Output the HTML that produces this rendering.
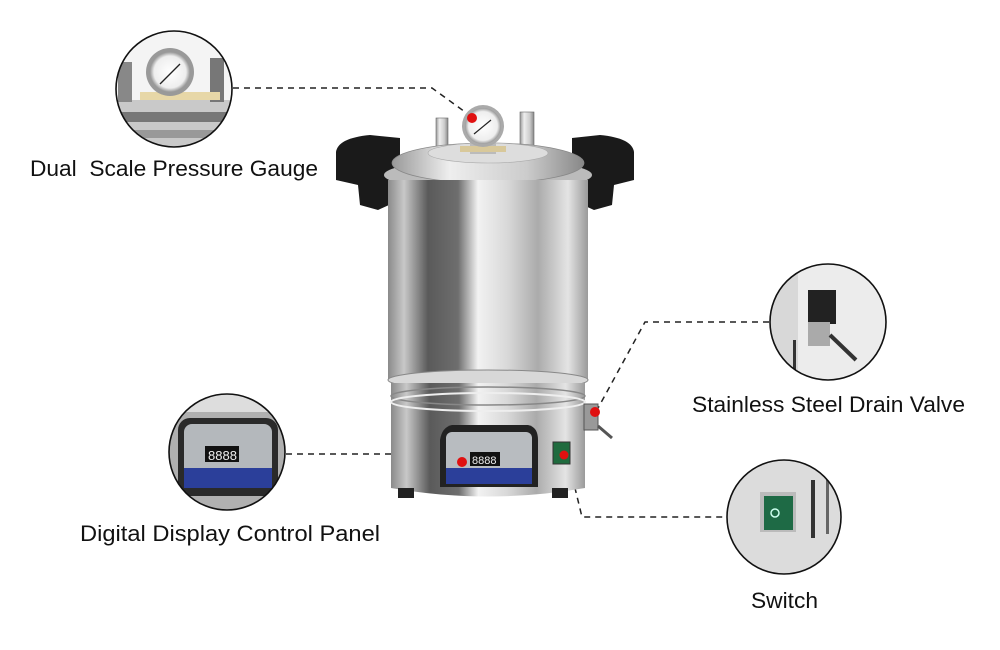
<!DOCTYPE html>
<html><head><meta charset="utf-8"><style>
html,body{margin:0;padding:0;background:#fff;}
svg{display:block}
text{font-family:"Liberation Sans",sans-serif;font-size:22px;fill:#111}
</style></head><body>
<svg width="1000" height="650" viewBox="0 0 1000 650" xmlns="http://www.w3.org/2000/svg">
<defs>
<linearGradient id="steel" x1="0" x2="1" y1="0" y2="0">
<stop offset="0" stop-color="#8a8a8a"/><stop offset="0.08" stop-color="#c8c8c8"/>
<stop offset="0.2" stop-color="#5a5a5a"/><stop offset="0.35" stop-color="#6e6e6e"/>
<stop offset="0.45" stop-color="#f2f2f2"/><stop offset="0.6" stop-color="#d8d8d8"/>
<stop offset="0.75" stop-color="#ababab"/><stop offset="0.9" stop-color="#e4e4e4"/>
<stop offset="1" stop-color="#9a9a9a"/></linearGradient>
<linearGradient id="steel2" x1="0" x2="1"><stop offset="0" stop-color="#999"/><stop offset="0.3" stop-color="#eee"/><stop offset="0.7" stop-color="#ccc"/><stop offset="1" stop-color="#888"/></linearGradient>
<radialGradient id="gauge"><stop offset="0" stop-color="#fff"/><stop offset="0.8" stop-color="#eee"/><stop offset="1" stop-color="#999"/></radialGradient>
<clipPath id="c1"><circle cx="174" cy="89" r="58"/></clipPath>
<clipPath id="c2"><circle cx="828" cy="322" r="58"/></clipPath>
<clipPath id="c3"><circle cx="227" cy="452" r="58"/></clipPath>
<clipPath id="c4"><circle cx="784" cy="517" r="57"/></clipPath>
</defs>

<!-- connectors -->
<g stroke="#222" stroke-width="1.5" stroke-dasharray="6,5" fill="none">
<polyline points="233,88 432,88 472,117"/>
<polyline points="769,322 645,322 597,410"/>
<line x1="286" y1="454" x2="444" y2="454"/>
<polyline points="567,455 582,517 727,517"/>
</g>

<!-- autoclave -->
<g>
<!-- handles -->
<path d="M336,152 Q338,138 370,135 L400,138 L400,200 L378,210 L360,205 L358,185 L336,180 Z" fill="#1a1a1a"/>
<path d="M634,152 Q632,138 600,135 L572,138 L572,200 L594,210 L612,205 L614,185 L634,180 Z" fill="#1a1a1a"/>
<!-- valves on top -->
<rect x="436" y="118" width="12" height="32" fill="url(#steel2)" stroke="#666" stroke-width="0.6"/>
<rect x="520" y="112" width="14" height="38" fill="url(#steel2)" stroke="#666" stroke-width="0.6"/>
<!-- lid -->
<ellipse cx="488" cy="175" rx="104" ry="16" fill="#bbb"/>
<ellipse cx="488" cy="163" rx="96" ry="20" fill="url(#steel2)" stroke="#888" stroke-width="0.8"/>
<ellipse cx="488" cy="153" rx="60" ry="10" fill="#ddd" stroke="#aaa" stroke-width="0.6"/>
<rect x="470" y="140" width="26" height="14" fill="#bbb"/>
<rect x="460" y="146" width="46" height="6" fill="#d8c89a"/>
<!-- gauge -->
<circle cx="483" cy="126" r="21" fill="#aaa"/>
<circle cx="483" cy="126" r="18" fill="url(#gauge)"/>
<line x1="474" y1="134" x2="491" y2="120" stroke="#222" stroke-width="1.2"/>
<circle cx="472" cy="118" r="5" fill="#e01010"/>
<!-- cylinder -->
<rect x="388" y="180" width="200" height="200" fill="url(#steel)"/>
<ellipse cx="488" cy="380" rx="100" ry="10" fill="#d8d8d8" stroke="#888"/>
<path d="M391,383 L585,383 L585,488 Q488,505 391,488 Z" fill="url(#steel)"/>
<ellipse cx="488" cy="396" rx="97" ry="9" fill="none" stroke="#888" stroke-width="1.5"/>
<ellipse cx="488" cy="402" rx="97" ry="9" fill="none" stroke="#eee" stroke-width="2"/>
<rect x="398" y="488" width="16" height="10" fill="#222"/>
<rect x="552" y="488" width="16" height="10" fill="#222"/>
<!-- panel -->
<path d="M452,425 L528,425 Q538,427 538,440 L538,487 L440,487 L440,440 Q442,427 452,425Z" fill="#222"/>
<rect x="446" y="432" width="86" height="52" rx="6" fill="#b8bcc0"/>
<rect x="446" y="468" width="86" height="16" fill="#2b3f9a"/>
<rect x="470" y="452" width="30" height="14" fill="#111"/>
<text x="472" y="464" style="font-size:11px;fill:#eee">8888</text>
<circle cx="462" cy="462" r="5" fill="#e01010"/>
<!-- switch -->
<rect x="553" y="442" width="17" height="22" fill="#1f6b3e" stroke="#333"/>
<circle cx="564" cy="455" r="4.5" fill="#e01010"/>
<!-- valve -->
<rect x="584" y="404" width="14" height="26" fill="#999" stroke="#555"/>
<line x1="598" y1="426" x2="612" y2="438" stroke="#555" stroke-width="3"/>
<circle cx="595" cy="412" r="5" fill="#e01010"/>
</g>

<!-- circle 1: gauge -->
<g clip-path="url(#c1)">
<rect x="110" y="25" width="130" height="130" fill="#f4f4f4"/>
<rect x="110" y="100" width="130" height="55" fill="#c9c9c9"/>
<rect x="110" y="112" width="130" height="10" fill="#777"/>
<rect x="110" y="130" width="130" height="8" fill="#999"/>
<rect x="118" y="62" width="14" height="40" fill="#888"/>
<rect x="210" y="58" width="14" height="44" fill="#777"/>
<rect x="140" y="92" width="80" height="8" fill="#e7d7a7"/>
<circle cx="170" cy="72" r="24" fill="#999"/>
<circle cx="170" cy="72" r="20" fill="url(#gauge)"/>
<line x1="160" y1="84" x2="180" y2="64" stroke="#222" stroke-width="1.3"/>
</g>
<circle cx="174" cy="89" r="58" fill="none" stroke="#111" stroke-width="1.6"/>

<!-- circle 2: drain -->
<g clip-path="url(#c2)">
<rect x="765" y="260" width="130" height="130" fill="#ececec"/>
<rect x="770" y="260" width="28" height="130" fill="#d8d8d8"/>
<rect x="793" y="340" width="3" height="45" fill="#333"/>
<rect x="808" y="290" width="28" height="34" fill="#222"/>
<rect x="808" y="322" width="22" height="24" fill="#aaa"/>
<line x1="830" y1="335" x2="856" y2="360" stroke="#333" stroke-width="4"/>
</g>
<circle cx="828" cy="322" r="58" fill="none" stroke="#111" stroke-width="1.6"/>

<!-- circle 3: panel -->
<g clip-path="url(#c3)">
<rect x="165" y="390" width="125" height="125" fill="#b0b0b0"/>
<rect x="165" y="390" width="125" height="22" fill="#ddd"/>
<rect x="178" y="418" width="100" height="78" rx="12" fill="#2a2a2a"/>
<rect x="184" y="424" width="88" height="64" rx="8" fill="#b4b8bc"/>
<rect x="184" y="468" width="88" height="20" fill="#2b3f9a"/>
<rect x="205" y="446" width="34" height="16" fill="#111"/>
<text x="208" y="460" style="font-size:13px;fill:#eee">8888</text>
</g>
<circle cx="227" cy="452" r="58" fill="none" stroke="#111" stroke-width="1.6"/>

<!-- circle 4: switch -->
<g clip-path="url(#c4)">
<rect x="725" y="458" width="120" height="120" fill="#dcdcdc"/>
<rect x="760" y="492" width="36" height="40" fill="#bbb"/>
<rect x="764" y="496" width="29" height="34" fill="#1e6a45"/>
<circle cx="775" cy="513" r="4" fill="none" stroke="#cfe" stroke-width="1.5"/>
<rect x="811" y="480" width="4" height="58" fill="#333"/>
<rect x="826" y="476" width="3" height="58" fill="#666"/>
</g>
<circle cx="784" cy="517" r="57" fill="none" stroke="#111" stroke-width="1.6"/>

<!-- labels -->
<text x="30" y="176" textLength="288" lengthAdjust="spacingAndGlyphs" xml:space="preserve">Dual  Scale Pressure Gauge</text>
<text x="692" y="412" textLength="273" lengthAdjust="spacingAndGlyphs">Stainless Steel Drain Valve</text>
<text x="80" y="541" textLength="300" lengthAdjust="spacingAndGlyphs">Digital Display Control Panel</text>
<text x="751" y="608" textLength="67" lengthAdjust="spacingAndGlyphs">Switch</text>
</svg>
</body></html>
